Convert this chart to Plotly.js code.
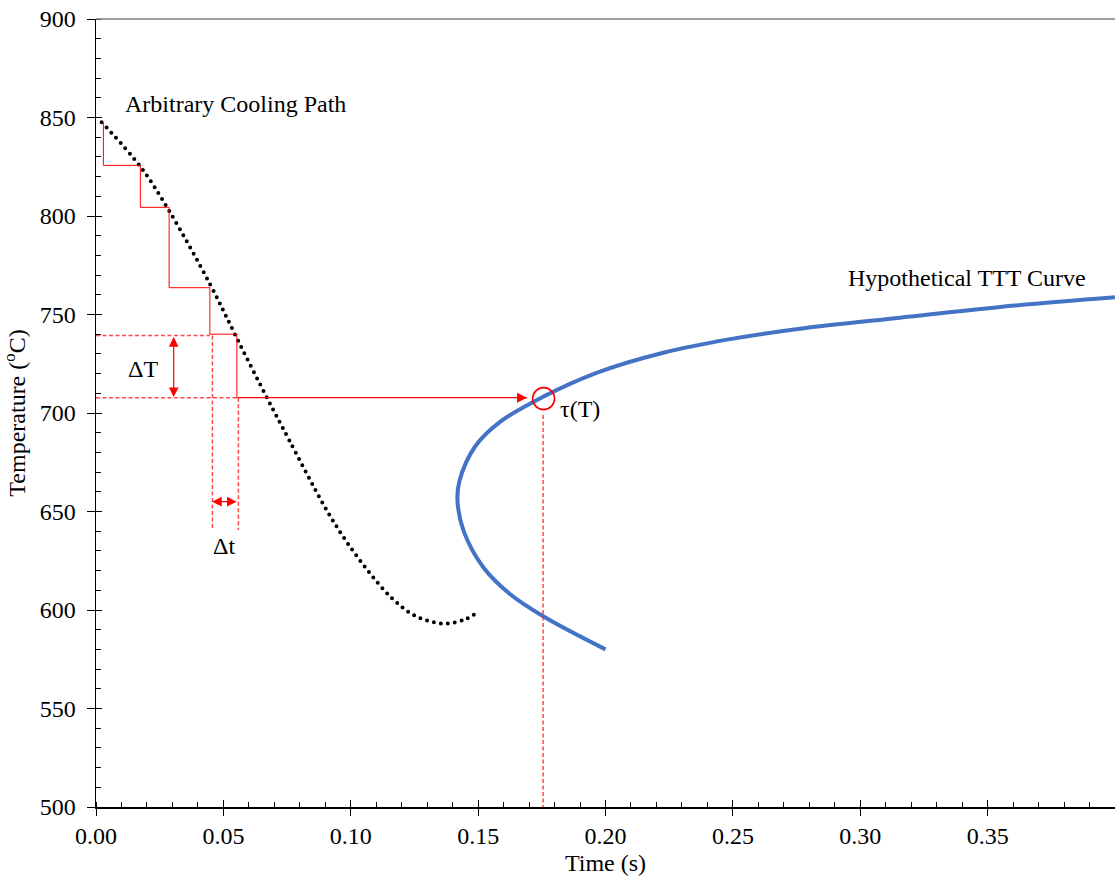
<!DOCTYPE html>
<html>
<head>
<meta charset="utf-8">
<script src="https://cdn.plot.ly/plotly-3.0.1.min.js"></script>
<style>
html,body{margin:0;padding:0;background:#fff;}
#chart{width:1115px;height:881px;}
</style>
</head>
<body>
<div id="chart"></div>
<script>
// Arbitrary cooling path (dotted black)
const coolTime = [0.0022, 0.0174, 0.029, 0.0448, 0.0554, 0.0674, 0.0758, 0.0897, 0.0975, 0.1063, 0.1159, 0.1253, 0.1364, 0.145, 0.150];
const coolTemp = [847.6, 825.1, 802.0, 765.3, 737.7, 707.0, 686.3, 652.6, 636.3, 620.7, 606.3, 597.0, 593.1, 595.3, 599.2];

// Hypothetical TTT curve (blue)
const tttTime = [0.200, 0.1757, 0.1626, 0.1521, 0.1443, 0.1419, 0.1427, 0.1488, 0.1586, 0.1756, 0.1965, 0.2227, 0.2489, 0.2763, 0.3156, 0.3549, 0.400];
const tttTemp = [580.0, 596.7, 608.0, 621.6, 640.2, 655.5, 665.6, 683.0, 695.5, 708.3, 720.4, 730.6, 737.5, 742.8, 748.4, 753.8, 758.7];

// Staircase approximation (solid red), last step runs to the TTT curve
const stepTime = [0.0029, 0.0174, 0.0287, 0.0447, 0.0553, 0.1692];
const stepTemp = [847.7, 825.7, 804.4, 763.6, 740.0, 707.8];

// Dashed red guide lines (null separated)
const guideTime = [0, 0.0447, null, 0, 0.0553, null, 0.0457, 0.0457, null, 0.0559, 0.0559, null, 0.1755, 0.1755];
const guideTemp = [739.3, 739.3, null, 707.8, 707.8, null, 739.3, 640.6, null, 707.8, 640.6, null, 699.0, 500.0];

// tau(T) intersection
const tauTime = [0.1757];
const tauTemp = [707.3];

// Delta arrows
const dTx = 0.0305, dTtop = 739.3, dTbot = 708.1;
const dtY = 655.0, dtLeft = 0.0450, dtRight = 0.0552;

// Axes
const xTickVals = [0, 0.05, 0.10, 0.15, 0.20, 0.25, 0.30, 0.35];
const xTickText = ['0.00', '0.05', '0.10', '0.15', '0.20', '0.25', '0.30', '0.35'];
const yTickVals = [500, 550, 600, 650, 700, 750, 800, 850, 900];

const FONT = 'Liberation Serif, Times New Roman, serif';
const RED = '#ff0000';

const traces = [
  {x: coolTime, y: coolTemp, mode: 'lines', type: 'scatter',
   line: {color: '#000', width: 4, shape: 'spline', smoothing: 1, dash: '0px,7px'}, hoverinfo: 'skip'},
  {x: tttTime, y: tttTemp, mode: 'lines', type: 'scatter',
   line: {color: '#4472C4', width: 4, shape: 'spline', smoothing: 1}, hoverinfo: 'skip'},
  {x: stepTime, y: stepTemp, mode: 'lines', type: 'scatter',
   line: {color: RED, width: 1, shape: 'vh'}, hoverinfo: 'skip'},
  {x: guideTime, y: guideTemp, mode: 'lines', type: 'scatter',
   line: {color: 'rgba(255,40,40,0.85)', width: 1.5, dash: '4px,2.5px'}, hoverinfo: 'skip', connectgaps: false},
  {x: tauTime, y: tauTemp, mode: 'markers', type: 'scatter', xaxis: 'x2', yaxis: 'y2',
   marker: {symbol: 'circle-open', size: 22, color: RED, line: {color: RED, width: 1.6}}, hoverinfo: 'skip'}
];

const axisCommon = {
  showgrid: false, zeroline: false, showline: true, linecolor: '#000', linewidth: 1.5,
  tickcolor: '#000', tickwidth: 1, ticks: 'outside',
  tickfont: {family: FONT, size: 24, color: '#000'}
};

const layout = {
  width: 1115, height: 881,
  margin: {l: 96, r: 0, t: 19, b: 74},
  paper_bgcolor: '#fff', plot_bgcolor: '#fff',
  showlegend: false,
  font: {family: FONT, size: 24, color: '#000'},
  xaxis: Object.assign({}, axisCommon, {
    range: [0, 0.40], tickvals: xTickVals, ticktext: xTickText, ticklen: 7,
    minor: {ticks: 'inside', dtick: 0.01, tick0: 0, ticklen: 5, tickcolor: '#000', tickwidth: 1, showgrid: false},
    title: {text: 'Time (s)', font: {family: FONT, size: 24, color: '#000'}, standoff: 6}
  }),
  yaxis: Object.assign({}, axisCommon, {
    range: [500, 900], tickvals: yTickVals, ticklen: 8, ticklabelstandoff: 6,
    minor: {ticks: 'inside', dtick: 10, tick0: 500, ticklen: 5, tickcolor: '#000', tickwidth: 1, showgrid: false},
    title: {text: 'Temperature (<sup>o</sup>C)', font: {family: FONT, size: 24, color: '#000'}, standoff: 8}
  }),
  xaxis2: {overlaying: 'x', anchor: 'y', range: [0, 0.40], showgrid: false, zeroline: false, showline: false,
    ticks: 'inside', tickvals: xTickVals, ticklen: 7, tickcolor: '#000', tickwidth: 1, showticklabels: false},
  yaxis2: {overlaying: 'y', anchor: 'x', side: 'left', range: [500, 900], showgrid: false, zeroline: false, showline: false,
    ticks: 'inside', tickvals: yTickVals, ticklen: 6, tickcolor: '#000', tickwidth: 1, showticklabels: false},
  shapes: [
    {type: 'line', xref: 'paper', yref: 'paper', x0: 0, x1: 1, y0: 1, y1: 1, line: {color: '#7f7f7f', width: 1.5}}
  ],
  annotations: [
    {x: stepTime[5], y: stepTemp[5], ax: stepTime[4], ay: stepTemp[5], axref: 'x', ayref: 'y', xref: 'x', yref: 'y',
     text: '', showarrow: true, arrowhead: 2, arrowsize: 2, arrowwidth: 1, arrowcolor: RED},
    {x: dTx, y: dTbot, ax: dTx, ay: dTtop, axref: 'x', ayref: 'y', xref: 'x', yref: 'y',
     text: '', showarrow: true, arrowhead: 2, arrowside: 'end+start', arrowsize: 1.6, arrowwidth: 1.2, arrowcolor: RED},
    {x: dtRight, y: dtY, ax: dtLeft, ay: dtY, axref: 'x', ayref: 'y', xref: 'x', yref: 'y',
     text: '', showarrow: true, arrowhead: 2, arrowside: 'end+start', arrowsize: 1.6, arrowwidth: 1.2, arrowcolor: RED},
    {x: 0.0106, y: 857, xref: 'x', yref: 'y', xanchor: 'left', yanchor: 'middle', showarrow: false,
     text: 'Arbitrary Cooling Path', font: {family: FONT, size: 24, color: '#000'}},
    {x: 0.2944, y: 768.5, xref: 'x', yref: 'y', xanchor: 'left', yanchor: 'middle', showarrow: false,
     text: 'Hypothetical TTT Curve', font: {family: FONT, size: 24, color: '#000'}},
    {x: 0.0185, y: 722.5, xref: 'x', yref: 'y', xanchor: 'center', yanchor: 'middle', showarrow: false,
     text: 'ΔT', font: {family: FONT, size: 24, color: '#000'}},
    {x: 0.0503, y: 632.5, xref: 'x', yref: 'y', xanchor: 'center', yanchor: 'middle', showarrow: false,
     text: 'Δt', font: {family: FONT, size: 24, color: '#000'}},
    {x: 0.19, y: 702, xref: 'x', yref: 'y', xanchor: 'center', yanchor: 'middle', showarrow: false,
     text: 'τ(T)', font: {family: FONT, size: 24, color: '#000'}}
  ]
};

Plotly.newPlot('chart', traces, layout, {staticPlot: true}).then(function () {
  const tr = document.querySelectorAll('.scatterlayer .trace');
  if (tr.length) {
    const p = tr[0].querySelector('path.js-line');
    if (p) { p.style.strokeLinecap = 'round'; }
  }
});
</script>
</body>
</html>
